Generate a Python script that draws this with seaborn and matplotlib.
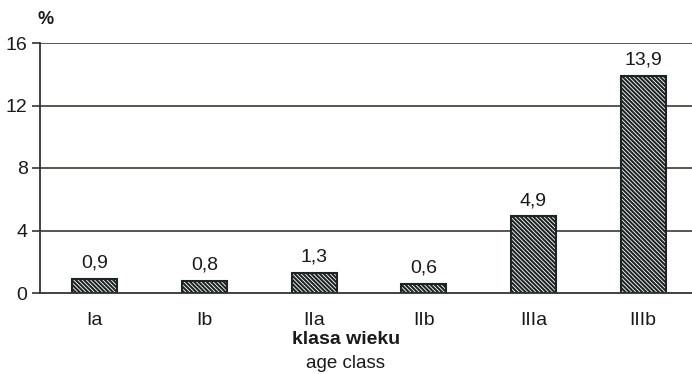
import matplotlib
matplotlib.use("Agg")
import matplotlib.pyplot as plt
import seaborn as sns
import pandas as pd
import numpy as np

categories = ["Ia", "Ib", "IIa", "IIb", "IIIa", "IIIb"]
values = [0.9, 0.8, 1.3, 0.6, 4.9, 13.9]
value_labels = ["0,9", "0,8", "1,3", "0,6", "4,9", "13,9"]
y_ticks = [0, 4, 8, 12, 16]

sns.set_theme(style="white")
plt.rcParams["font.family"] = ["Liberation Sans", "DejaVu Sans"]
plt.rcParams["hatch.linewidth"] = 1.5
plt.rcParams["hatch.color"] = "#1e2424"

df = pd.DataFrame({"klasa": categories, "proc": values})

fig = plt.figure(figsize=(6.92, 3.74), dpi=100)
ax = fig.add_axes([40 / 692, 1 - 293 / 374, 658 / 692, 250 / 374])

sns.barplot(data=df, x="klasa", y="proc", ax=ax, color="white", width=0.41,
            edgecolor="#1e2424", linewidth=1.5, hatch="\\" * 8, zorder=3)

ax.set_ylim(0, 16)
ax.set_xlim(-0.5, len(categories) - 0.5)
ax.set_yticks(y_ticks)
ax.set_yticklabels([str(t) for t in y_ticks], fontsize=14, color="#1a1a1a")
for t in y_ticks[1:]:
    ax.axhline(t, color="#4a4a44", lw=1.3, zorder=1)

ax.set_xticks(np.arange(len(categories)))
ax.set_xticklabels(categories, fontsize=14, color="#1a1a1a")
ax.tick_params(axis="x", length=0, pad=14)
ax.set_xticks(np.arange(len(categories) + 1) - 0.5, minor=True)
ax.tick_params(axis="x", which="minor", length=6, width=1.2, color="#333333", direction="out")
ax.tick_params(axis="y", length=6, width=1.2, color="#333333", direction="out", pad=3, left=True)

for s in ["top", "right"]:
    ax.spines[s].set_visible(False)
for s in ["left", "bottom"]:
    ax.spines[s].set_color("#333333")
    ax.spines[s].set_linewidth(1.3)
    ax.spines[s].set_zorder(4)

for i, (v, lab) in enumerate(zip(values, value_labels)):
    ax.annotate(lab, (i, v), xytext=(0, 5), textcoords="offset points",
                ha="center", va="bottom", fontsize=14, color="#1a1a1a")

ax.set_xlabel("")
ax.set_ylabel("")
fig.text(346 / 692, 1 - 340 / 374, "klasa wieku", ha="center", va="center",
         fontsize=14, fontweight="bold", color="#1a1a1a")
fig.text(346 / 692, 1 - 363 / 374, "age class", ha="center", va="center",
         fontsize=13.5, color="#1a1a1a")
fig.text(46 / 692, 1 - 20 / 374, "%", ha="center", va="center",
         fontsize=13, fontweight="bold", color="#1a1a1a")

fig.savefig("out.png", dpi=100)
